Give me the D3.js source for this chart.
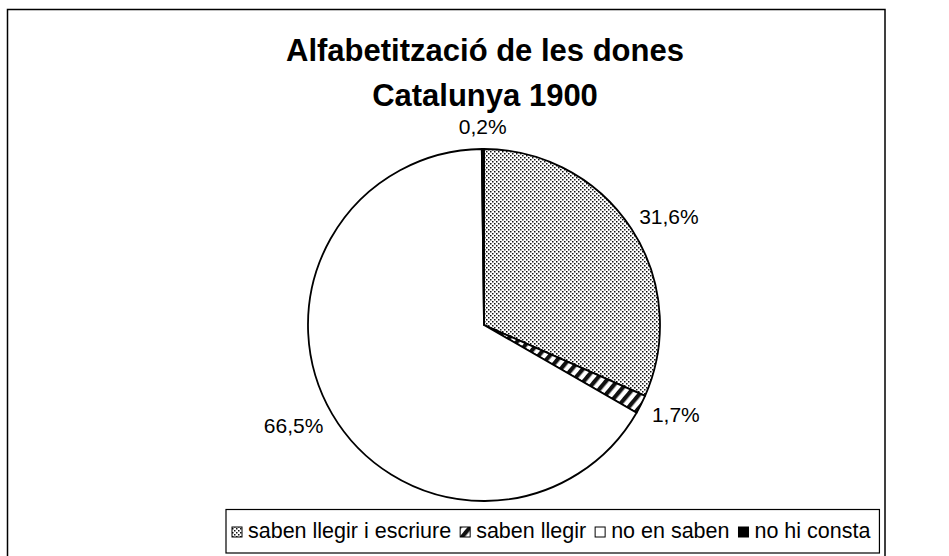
<!DOCTYPE html>
<html>
<head>
<meta charset="utf-8">
<script src="https://cdn.jsdelivr.net/npm/d3@7"></script>
<style>
  html, body { margin: 0; padding: 0; background: #fff; }
  svg { display: block; }
</style>
</head>
<body>
<svg id="chart" width="949" height="556"></svg>
<script>
// Literacy of women, Catalonia 1900 (percent of population)
const titleLines = ["Alfabetització de les dones", "Catalunya 1900"];
const categories = ["saben llegir i escriure", "saben llegir", "no en saben", "no hi consta"];
const values = [31.6, 1.7, 66.5, 0.2];
const valueLabels = ["31,6%", "1,7%", "66,5%", "0,2%"];
const fills = ["url(#dots)", "url(#hatch)", "#ffffff", "#000000"];

const W = 949, H = 556;
const svg = d3.select("#chart");
const font = "'Liberation Sans', Arial, Helvetica, sans-serif";

// Fill patterns
const defs = svg.append("defs");
const dots = defs.append("pattern")
  .attr("id", "dots").attr("patternUnits", "userSpaceOnUse")
  .attr("width", 4).attr("height", 4);
dots.append("rect").attr("width", 4).attr("height", 4).attr("fill", "#fff");
dots.append("rect").attr("x", 0).attr("y", 0).attr("width", 1.5).attr("height", 1.5).attr("fill", "#111");
dots.append("rect").attr("x", 2).attr("y", 2).attr("width", 1.5).attr("height", 1.5).attr("fill", "#111");

const hatch = defs.append("pattern")
  .attr("id", "hatch").attr("patternUnits", "userSpaceOnUse")
  .attr("width", 8.5).attr("height", 8.5)
  .attr("patternTransform", "rotate(40)");
hatch.append("rect").attr("width", 8.5).attr("height", 8.5).attr("fill", "#fff");
hatch.append("rect").attr("width", 4.2).attr("height", 8.5).attr("fill", "#111");

// Outer frame
svg.append("rect")
  .attr("x", 7.5).attr("y", 9.5)
  .attr("width", 877.5).attr("height", 560)
  .attr("fill", "#fff").attr("stroke", "#000").attr("stroke-width", 1.5);

// Title
svg.append("g").selectAll("text").data(titleLines).join("text")
  .attr("x", 485)
  .attr("y", (d, i) => 61 + i * 45)
  .attr("text-anchor", "middle")
  .attr("font-family", font)
  .attr("font-weight", "bold")
  .attr("font-size", 31)
  .text(d => d);

// Pie
const cx = 484, cy = 325, r = 176;
const pie = d3.pie().sort(null).value(d => d);
const arcs = pie(values);
const arc = d3.arc().innerRadius(0).outerRadius(r);

const g = svg.append("g").attr("transform", `translate(${cx},${cy})`);
g.selectAll("path").data(arcs).join("path")
  .attr("d", arc)
  .attr("fill", (d, i) => fills[i])
  .attr("stroke", "#000")
  .attr("stroke-width", 1.8)
  .attr("stroke-linejoin", "round");

// Value labels placed just outside each slice
const labelSize = 21;
const labels = g.selectAll("text.val").data(arcs).join("text")
  .attr("class", "val")
  .attr("font-family", font)
  .attr("font-size", labelSize)
  .attr("text-anchor", "middle")
  .attr("dominant-baseline", "central")
  .text((d, i) => valueLabels[i]);

labels.each(function (d) {
  const bb = this.getBBox();
  const a = (d.startAngle + d.endAngle) / 2;
  const sx = Math.sin(a), sy = -Math.cos(a);
  const pad = 15;
  const x = sx * (r + pad) + sx * bb.width / 2;
  const y = sy * (r + pad) + sy * labelSize * 0.38;
  d3.select(this).attr("x", x).attr("y", y);
});

// Legend
const legend = svg.append("g");
const legendBox = legend.append("rect")
  .attr("fill", "#fff").attr("stroke", "#000").attr("stroke-width", 1.2);

const legendSize = 21.5, sw = 10;
let lx = 232;
const ly = 531;
categories.forEach((c, i) => {
  legend.append("rect")
    .attr("x", lx).attr("y", ly - sw / 2 + 1)
    .attr("width", sw).attr("height", sw)
    .attr("fill", fills[i]).attr("stroke", "#000").attr("stroke-width", 1);
  const t = legend.append("text")
    .attr("x", lx + sw + 6).attr("y", ly)
    .attr("dominant-baseline", "central")
    .attr("font-family", font)
    .attr("font-size", legendSize)
    .text(c);
  lx += sw + 6 + t.node().getComputedTextLength() + 9;
});
legendBox.attr("x", 226).attr("y", 509.5)
  .attr("width", lx - 226).attr("height", 43.5);
</script>
</body>
</html>
